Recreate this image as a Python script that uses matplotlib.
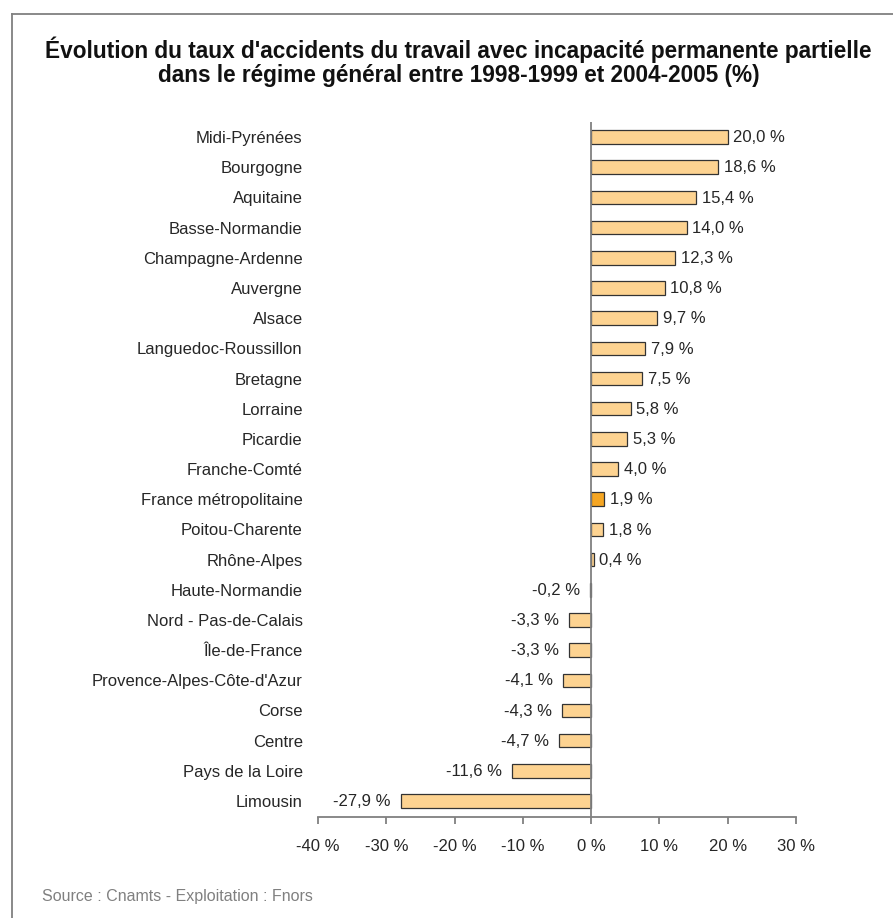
import matplotlib.pyplot as plt
from matplotlib.lines import Line2D

plt.rcParams['font.family'] = ['Liberation Sans', 'DejaVu Sans']

regions = [
    "Midi-Pyrénées", "Bourgogne", "Aquitaine", "Basse-Normandie",
    "Champagne-Ardenne", "Auvergne", "Alsace", "Languedoc-Roussillon",
    "Bretagne", "Lorraine", "Picardie", "Franche-Comté",
    "France métropolitaine", "Poitou-Charente", "Rhône-Alpes",
    "Haute-Normandie", "Nord - Pas-de-Calais", "Île-de-France",
    "Provence-Alpes-Côte-d'Azur", "Corse", "Centre", "Pays de la Loire",
    "Limousin",
]
evolution = [
    20.0, 18.6, 15.4, 14.0, 12.3, 10.8, 9.7, 7.9, 7.5, 5.8, 5.3, 4.0,
    1.9, 1.8, 0.4, -0.2, -3.3, -3.3, -4.1, -4.3, -4.7, -11.6, -27.9,
]
x_ticks = [-40, -30, -20, -10, 0, 10, 20, 30]
highlight = "France métropolitaine"

bar_color = "#FDD391"
highlight_color = "#F5A623"
grey = "#808080"
txt_color = "#262626"
fs = 12

fig = plt.figure(figsize=(8.93, 9.18), dpi=100)
ax = fig.add_axes([318 / 893, 1 - 817 / 918, 478 / 893, 695 / 918])

y = list(range(len(regions)))
colors = [highlight_color if r == highlight else bar_color for r in regions]
ax.barh(y, evolution, height=0.45, color=colors, edgecolor="#333333", linewidth=0.9, zorder=2)

# étiquettes de valeur au bout des barres
for yi, v in zip(y, evolution):
    txt = f"{v:.1f} %".replace(".", ",")
    if v >= 0:
        ax.annotate(txt, (v, yi), xytext=(4, -0.5), textcoords="offset points",
                    ha="left", va="center", fontsize=fs, color=txt_color)
    else:
        ax.annotate(txt, (v, yi), xytext=(-7, -0.5), textcoords="offset points",
                    ha="right", va="center", fontsize=fs, color=txt_color)

ax.set_xlim(-40, 30)
ax.set_ylim(len(regions) - 0.47, -0.5)
ax.axvline(0, color=grey, linewidth=1.3, zorder=3)

ax.set_xticks(x_ticks)
ax.set_xticklabels([f"{t} %" for t in x_ticks], fontsize=fs, color=txt_color)
ax.set_yticks(y)
ax.set_yticklabels(regions, fontsize=fs, color=txt_color)
ax.tick_params(axis="y", length=0, pad=11)
ax.tick_params(axis="x", direction="out", length=5, width=1.3, color=grey, pad=11)

for side in ("top", "right", "left"):
    ax.spines[side].set_visible(False)
ax.spines["bottom"].set_color(grey)
ax.spines["bottom"].set_linewidth(1.3)

fig.text(0.5 + 12 / 893, 1 - 62 / 918,
         "Évolution du taux d'accidents du travail avec incapacité permanente partielle\n"
         "dans le régime général entre 1998-1999 et 2004-2005 (%)",
         ha="center", va="center", fontsize=16.3, fontweight="bold", color="#111111",
         linespacing=1.05)

fig.text(42 / 893, 1 - 897 / 918, "Source : Cnamts - Exploitation : Fnors",
         ha="left", va="center", fontsize=11.5, color=grey)

# cadre gris (haut et gauche)
fig.add_artist(Line2D([12 / 893, 1.0], [1 - 14 / 918, 1 - 14 / 918],
                      transform=fig.transFigure, color=grey, linewidth=1.3))
fig.add_artist(Line2D([12 / 893, 12 / 893], [0.0, 1 - 14 / 918],
                      transform=fig.transFigure, color=grey, linewidth=1.3))

fig.savefig("out.png", dpi=100, facecolor="white")
